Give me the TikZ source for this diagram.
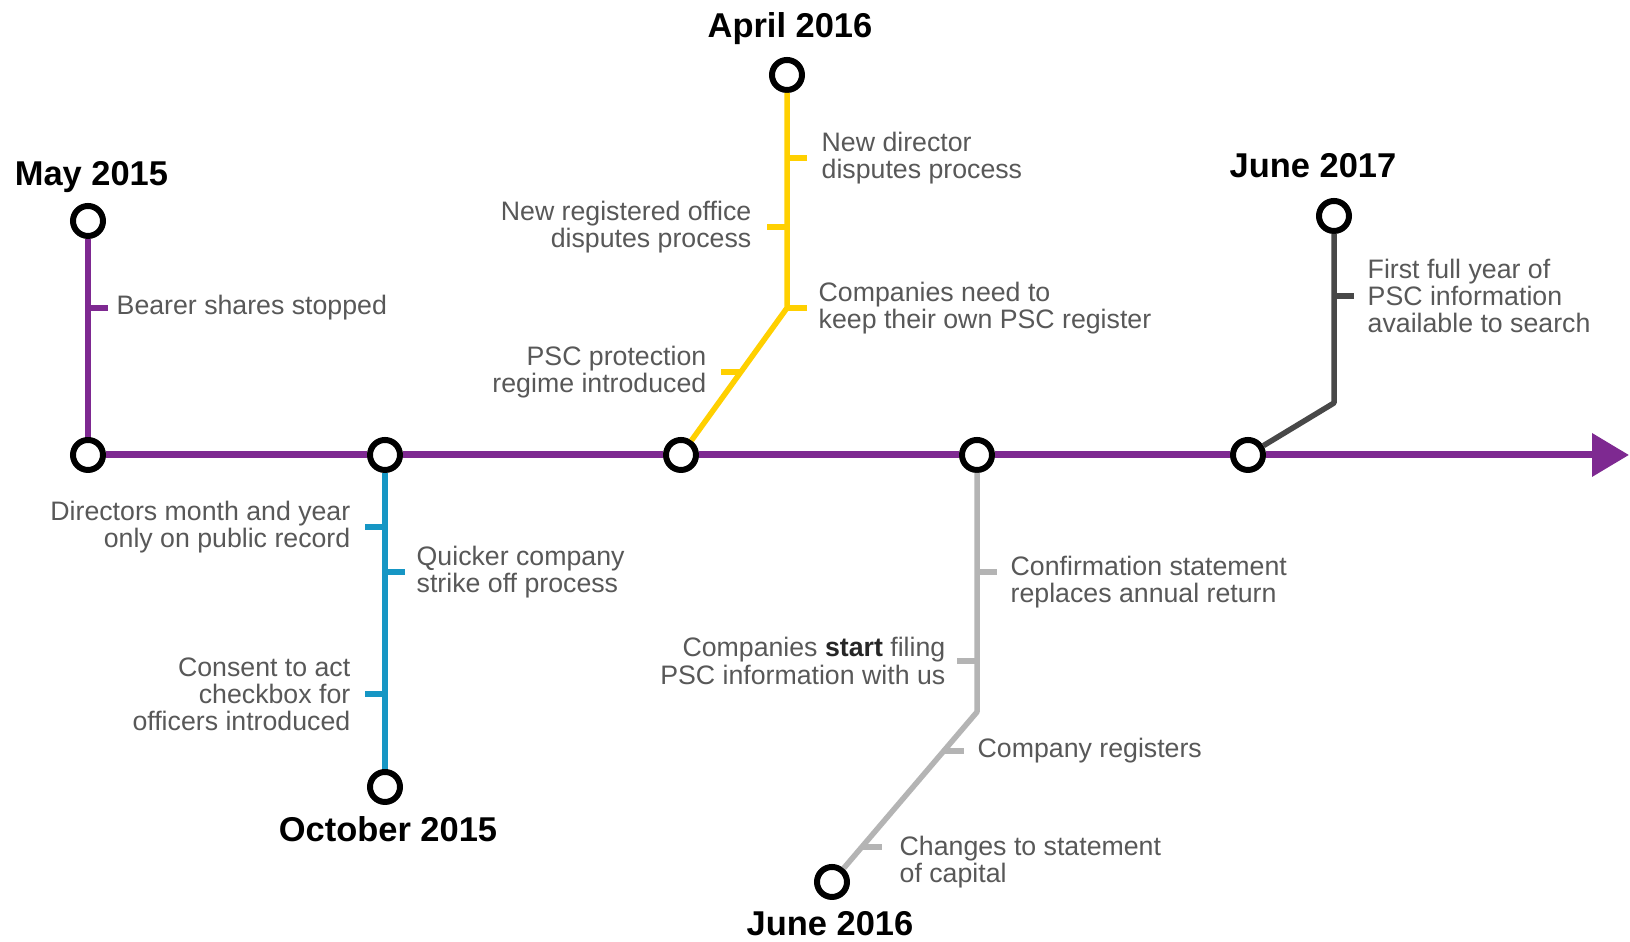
\documentclass[tikz,border=0pt]{standalone}
\usepackage{fontspec}
\setmainfont{Liberation Sans}
\usetikzlibrary{positioning,arrows.meta}
\definecolor{tlpurple}{RGB}{126,41,145}
\definecolor{tlyellow}{RGB}{255,208,0}
\definecolor{tlblue}{RGB}{22,150,196}
\definecolor{tllight}{RGB}{180,180,180}
\definecolor{tldark}{RGB}{72,72,72}
\definecolor{notegray}{RGB}{88,88,88}
\tikzset{
  stop/.style={circle,draw=black,line width=0.6mm,fill=white,minimum size=0.30cm,inner sep=0pt},
  datelabel/.style={font=\bfseries\fontsize{9.8}{11}\selectfont,inner sep=0pt,anchor=base},
  note/.style={font=\fontsize{7.6}{7.7}\selectfont,text=notegray,inner sep=0pt},
  mainline/.style={line width=0.7mm,tlpurple},
  branch/.style={line width=0.55mm,line join=round}
}
\begin{document}
\begin{tikzpicture}
\fill[white] (0,0) rectangle (16.3,9.42);
\useasboundingbox (0,0) rectangle (16.3,9.42);
% stops on the main line and the ends of the branches
\node[stop] (may15a) at (0.88,4.87) {};
\node[stop] (may15b) at (0.88,7.21) {};
\node[stop] (oct15a) at (3.85,4.87) {};
\node[stop] (oct15b) at (3.85,1.55) {};
\node[stop] (apr16a) at (6.81,4.87) {};
\node[stop] (apr16b) at (7.87,8.67) {};
\node[stop] (jun16a) at (9.77,4.87) {};
\node[stop] (jun16b) at (8.32,0.60) {};
\node[stop] (jun17a) at (12.48,4.87) {};
\node[stop] (jun17b) at (13.34,7.26) {};
\coordinate (apr16k) at (7.87,6.34);
\coordinate (jun16k) at (9.77,2.30);
\coordinate (jun17k) at (13.34,5.39);
\coordinate (tip) at (16.29,4.87);
% dates
\node[datelabel] (may15) at (0.915,7.56) {May 2015};
\node[datelabel] (oct15) at (3.88,1.00) {October 2015};
\node[datelabel] (apr16) at (7.90,9.04) {April 2016};
\node[datelabel] (jun16) at (8.30,0.06) {June 2016};
\node[datelabel] (jun17) at (13.13,7.64) {June 2017};
% main line
\draw[mainline] (may15a) -- (oct15a);
\draw[mainline] (oct15a) -- (apr16a);
\draw[mainline] (apr16a) -- (jun16a);
\draw[mainline] (jun16a) -- (jun17a);
\draw[mainline,-{Triangle[length=0.37cm,width=0.42cm]}] (jun17a) -- (tip);
% branches
\draw[branch,tlpurple] (may15a) -- (may15b);
\draw[branch,tlblue] (oct15a) -- (oct15b);
\draw[branch,tlyellow] (apr16a) -- (apr16k) -- (apr16b);
\draw[branch,tllight] (jun16a) -- (jun16k) -- (jun16b);
\draw[branch,tldark] (jun17a) -- (jun17k) -- (jun17b);
% May 2015
\draw[branch,tlpurple] (0.88,6.34) -- ++(0.2,0) coordinate (may15t);
\node[note,right=0.08cm of may15t] (bearer) {Bearer shares stopped};
% October 2015
\draw[branch,tlblue] (3.85,4.15) -- ++(-0.2,0) coordinate (oct15t1);
\node[note,align=right,left=0.14cm of oct15t1] (dob) {Directors month and year\\only on public record};
\draw[branch,tlblue] (3.85,3.70) -- ++(0.2,0) coordinate (oct15t2);
\node[note,align=left,right=0.11cm of oct15t2] (strike) {Quicker company\\strike off process};
\draw[branch,tlblue] (3.85,2.48) -- ++(-0.2,0) coordinate (oct15t3);
\node[note,align=right,left=0.14cm of oct15t3] (consent) {Consent to act\\checkbox for\\officers introduced};
% April 2016
\draw[branch,tlyellow] (7.87,7.84) -- ++(0.2,0) coordinate (apr16t1);
\node[note,align=left,right=0.14cm of apr16t1] (director) {New director\\disputes process};
\draw[branch,tlyellow] (7.87,7.15) -- ++(-0.2,0) coordinate (apr16t2);
\node[note,align=right,left=0.15cm of apr16t2] (office) {New registered office\\disputes process};
\draw[branch,tlyellow] (7.87,6.34) -- ++(0.2,0) coordinate (apr16t3);
\node[note,align=left,right=0.11cm of apr16t3] (ownreg) {Companies need to\\keep their own PSC register};
\draw[branch,tlyellow] (7.41,5.70) -- ++(-0.2,0) coordinate (apr16t4);
\node[note,align=right,left=0.14cm of apr16t4] (regime) {PSC protection\\regime introduced};
% June 2016
\draw[branch,tllight] (9.77,3.70) -- ++(0.2,0) coordinate (jun16t1);
\node[note,align=left,right=0.13cm of jun16t1,yshift=-0.1cm] (confirm) {Confirmation statement\\replaces annual return};
\draw[branch,tllight] (9.77,2.81) -- ++(-0.2,0) coordinate (jun16t2);
\node[note,align=right,left=0.11cm of jun16t2] (filing) {Companies \textcolor{black!85}{\bfseries start} filing\\PSC information with us};
\draw[branch,tllight] (9.44,1.91) -- ++(0.2,0) coordinate (jun16t3);
\node[note,right=0.13cm of jun16t3] (registers) {Company registers};
\draw[branch,tllight] (8.62,0.95) -- ++(0.2,0) coordinate (jun16t4);
\node[note,align=left,right=0.17cm of jun16t4,yshift=-0.15cm] (capital) {Changes to statement\\of capital};
% June 2017
\draw[branch,tldark] (13.34,6.46) -- ++(0.2,0) coordinate (jun17t);
\node[note,align=left,right=0.13cm of jun17t] (search) {First full year of\\PSC information\\available to search};
\end{tikzpicture}
\end{document}
